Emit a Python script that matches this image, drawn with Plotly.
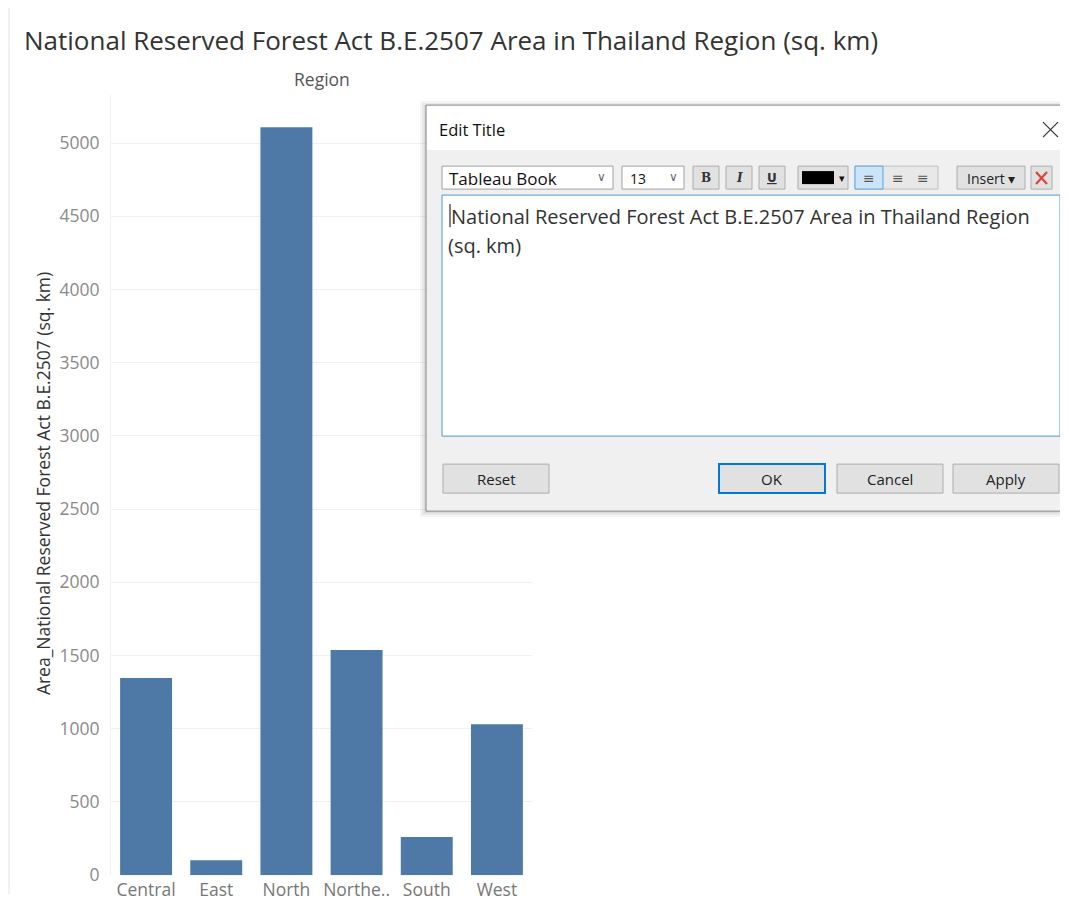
import plotly.graph_objects as go

# ---------------- data ----------------
regions = ["Central", "East", "North", "Northeast", "South", "West"]
region_labels = ["Central", "East", "North", "Northe..", "South", "West"]
area_sq_km = [1346, 102, 5109, 1537, 260, 1031]
y_ticks = [0, 500, 1000, 1500, 2000, 2500, 3000, 3500, 4000, 4500, 5000]

title_text = "National Reserved Forest Act B.E.2507 Area in Thailand Region (sq. km)"
y_title = "Area_National Reserved Forest Act B.E.2507 (sq. km)"

# page body has an 8px margin, so the figure is drawn 8px in from the window edge
OFF = 8
W, H = 1068 - OFF, 905 - OFF
VS = 0.9877  # measured vertical squeeze of the page capture
FONT = "Open Sans"
BAR = "#4e79a7"


def fx(x):
    return (x - OFF) / W


def fy(y):
    return 1 - (y / VS - OFF) / H


fig = go.Figure()
fig.add_trace(go.Bar(x=regions, y=area_sq_km, marker=dict(color=BAR, line=dict(width=0)),
                     hoverinfo="x+y"))

shapes = []
annotations = []


def rect(x0, y0, x1, y1, fill, line=None, lw=1):
    shapes.append(dict(type="rect", xref="paper", yref="paper",
                       x0=fx(x0), x1=fx(x1), y0=fy(y1), y1=fy(y0),
                       fillcolor=fill,
                       line=dict(color=line if line else fill, width=lw if line else 0),
                       layer="above"))


def seg(x0, y0, x1, y1, color, lw=1):
    shapes.append(dict(type="line", xref="paper", yref="paper",
                       x0=fx(x0), x1=fx(x1), y0=fy(y0), y1=fy(y1),
                       line=dict(color=color, width=lw), layer="above"))


def text(x, y, s, size=14, color="#222", anchor="left", font=FONT, angle=0):
    annotations.append(dict(x=fx(x), y=fy(y), xref="paper", yref="paper", text=s,
                            showarrow=False, xanchor=anchor, yanchor="middle",
                            textangle=angle,
                            font=dict(family=font, size=size, color=color)))


# left sheet border
shapes.append(dict(type="line", xref="paper", yref="paper", x0=fx(9), x1=fx(9), y0=0, y1=1,
                   line=dict(color="#e4e4e4", width=1), layer="below"))

# chart texts
text(22, 40, title_text, size=26, color="#333333")
text(322, 79, "Region", size=17.5, color="#555555", anchor="center")
text(43, 484, y_title, size=17.5, color="#333333", anchor="center", angle=-90)

# ---------------- dialog (Edit Title) ----------------
# shadow
for i, a in enumerate([0.04, 0.05, 0.06]):
    d = 6 - 2 * i
    rect(426 - d, 105 - d + 2, 1075, 511 + d, f"rgba(0,0,0,{a})")
rect(426, 105, 1075, 511, "#f0f0f0", line="#8a8a8a", lw=1)
rect(427, 106, 1074, 150, "#ffffff")
text(437, 129, "Edit Title", size=16.5, color="#111111")
seg(1043, 122, 1058, 137, "#333333", 1.2)
seg(1043, 137, 1058, 122, "#333333", 1.2)

# toolbar: font dropdown
rect(442, 166, 613, 189, "#ffffff", line="#a0a0a0")
text(447, 178, "Tableau Book", size=17, color="#111111")
text(601, 177, "∨", size=12, color="#666666", anchor="center", font="DejaVu Sans")
# size dropdown
rect(622, 166, 684, 189, "#ffffff", line="#a0a0a0")
text(628, 178, "13", size=14, color="#111111")
text(673, 177, "∨", size=12, color="#666666", anchor="center", font="DejaVu Sans")
# B I U
for x0, lab, fam in [(693, "<b>B</b>", "DejaVu Serif"), (726, "<b><i>I</i></b>", "DejaVu Serif"),
                     (759, "<b><u>U</u></b>", "DejaVu Sans")]:
    rect(x0, 166, x0 + 26, 189, "#e1e1e1", line="#adadad")
    text(x0 + 13, 178, lab, size=12, color="#333333", anchor="center", font=fam)
# colour picker
rect(798, 166, 848, 189, "#e1e1e1", line="#adadad")
rect(802, 171, 834, 184, "#000000")
text(842, 178, "▾", size=11, color="#111111", anchor="center", font="DejaVu Sans")
# alignment group
rect(855, 166, 938, 189, "#e8e8e8", line="#c0c0c0")
rect(855, 166, 883, 189, "#cce4f7", line="#5ba3e0")
for cx in [869, 898, 923]:
    text(cx, 178, "≡", size=14, color="#555555", anchor="center", font="DejaVu Sans")
# insert
rect(957, 166, 1025, 189, "#e1e1e1", line="#adadad")
text(991, 178, "Insert ▾", size=14, color="#222222", anchor="center")
# red X
rect(1031, 166, 1052, 189, "#e1e1e1", line="#adadad")
seg(1036, 172, 1047, 184, "#d9453a", 2.2)
seg(1036, 184, 1047, 172, "#d9453a", 2.2)

# text box
rect(442, 195, 1060, 436, "#ffffff", line="#4a9ad4")
seg(450, 204, 450, 227, "#000000", 1)
text(449, 216, "National Reserved Forest Act B.E.2507 Area in Thailand Region", size=20,
     color="#333333")
text(446, 245, "(sq. km)", size=20, color="#333333")

# bottom buttons
for x0, lab in [(443, "Reset"), (837, "Cancel"), (953, "Apply")]:
    rect(x0, 464, x0 + 106, 493, "#e1e1e1", line="#adadad")
    text(x0 + 53, 479, lab, size=15, color="#222222", anchor="center")
rect(719, 464, 825, 493, "#e1e1e1", line="#0078d7", lw=2)
text(772, 479, "OK", size=15, color="#222222", anchor="center")

# ---------------- layout ----------------
y_top_px, y_bot_px = 95, 875
px_per_unit = (875 - 143) / 5000.0
y_max = (y_bot_px - y_top_px) / px_per_unit

fig.update_layout(
    width=W, height=H,
    margin=dict(l=0, r=0, t=0, b=0),
    paper_bgcolor="#ffffff", plot_bgcolor="#ffffff",
    showlegend=False,
    bargap=0.26,
    font=dict(family=FONT),
    shapes=shapes,
    annotations=annotations,
    xaxis=dict(domain=[fx(111), fx(532)], type="category",
               categoryorder="array", categoryarray=regions,
               tickmode="array", tickvals=regions, ticktext=region_labels,
               tickfont=dict(family=FONT, size=17.5, color="#777777"),
               showgrid=False, showline=False, zeroline=False, ticks="",
               ticklabelstandoff=2),
    yaxis=dict(domain=[fy(y_bot_px), fy(y_top_px)], range=[0, y_max],
               tickmode="array", tickvals=y_ticks,
               tickfont=dict(family=FONT, size=17.5, color="#8a8a8a"),
               showgrid=True, gridcolor="#f1f1f1", gridwidth=1,
               showline=True, linecolor="#efefef", linewidth=1,
               zeroline=False, ticks="", ticklabelstandoff=7),
)

fig.write_html("out.html")
